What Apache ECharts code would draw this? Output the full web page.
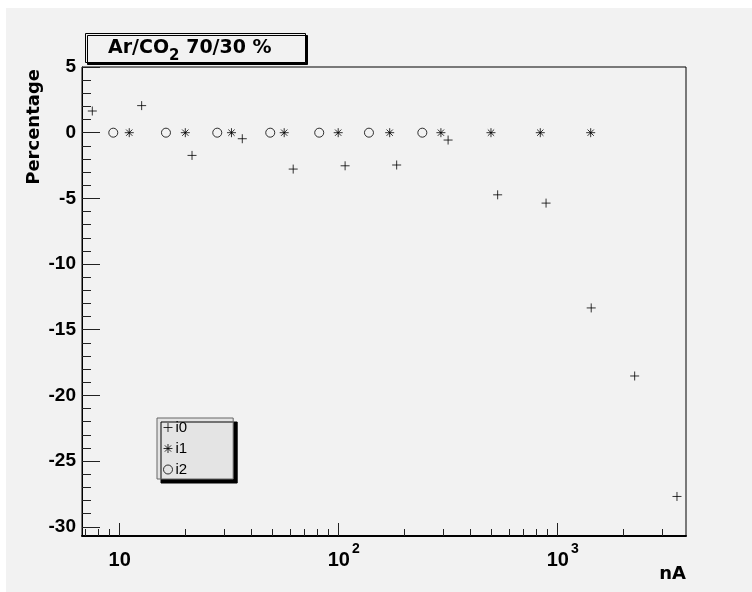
<!DOCTYPE html>
<html>
<head>
<meta charset="utf-8">
<script src="https://cdn.jsdelivr.net/npm/echarts@6/dist/echarts.min.js"></script>
<style>
  body { margin: 0; background: #fff; }
  #chart { position: absolute; left: 6px; top: 8px; width: 746px; height: 584px; }
</style>
</head>
<body>
<div id="chart"></div>
<script>
// data (x in nA, y in %)
var i0_nA  = [7.5, 12.6, 21.4, 36.3, 62, 107, 184, 316, 532, 885, 1423, 2247, 3506];
var i0_pct = [1.65, 2.06, -1.73, -0.46, -2.77, -2.52, -2.46, -0.56, -4.73, -5.36, -13.34, -18.52, -27.69];
var i1_nA  = [11.06, 19.94, 32.4, 56.4, 99.5, 171, 293, 496, 833, 1415];
var i1_pct = [0, 0, 0, 0, 0, 0, 0, 0, 0, 0];
var i2_nA  = [9.35, 16.27, 27.9, 48.7, 81.5, 137.5, 241];
var i2_pct = [0, 0, 0, 0, 0, 0, 0];

// axis ticks
var xMajor = [10, 100, 1000];
var xMinor = [7, 8, 9, 20, 30, 40, 50, 60, 70, 80, 90, 200, 300, 400, 500, 600, 700, 800, 900, 2000, 3000];
var yMajor = [-30, -25, -20, -15, -10, -5, 0, 5];
var yMinor = [];
for (var k = -29; k <= 4; k++) { if (k % 5 !== 0) yMinor.push(k); }

var xMin = 0.828, xMax = 3.586;   // log10(nA) range of the frame
var yMin = -30.7, yMax = 5;

var PLUS = 'path://M0,5L10,5M5,0L5,10';
var STAR = 'path://M0,5L10,5M5,0L5,10M1.5,1.5L8.5,8.5M1.5,8.5L8.5,1.5';

var toPts = function(xs, ys){
    return xs.map(function(x, i){ return [Math.log10(x), ys[i]]; });
};
var lg = function(arr){ return arr.map(function(v){ return Math.log10(v); }); };

var markStyle = { color: 'none', borderColor: '#000', borderWidth: 1 };
var boldFont = 'DejaVu Sans';
var labFont = 'Liberation Sans';

var chart = echarts.init(document.getElementById('chart'));
chart.setOption({
    animation: false,
    backgroundColor: '#f2f2f2',
    title: {
        left: 102,
        top: 31,
        padding: 0,
        text: '{m|Ar/CO}{s|2}{m| 70/30 %}',
        textStyle: {
            rich: {
                m: { fontFamily: boldFont, fontWeight: 'bold', fontSize: 19, color: '#000', verticalAlign: 'top' },
                s: { fontFamily: boldFont, fontWeight: 'bold', fontSize: 15, color: '#000', verticalAlign: 'bottom', lineHeight: 25 }
            }
        }
    },
    graphic: [{
        type: 'rect',
        z: -1,
        shape: { x: 79.5, y: 25.5, width: 220, height: 29 },
        style: { fill: '#f2f2f2', stroke: '#000', lineWidth: 1, shadowColor: '#000', shadowOffsetX: 2, shadowOffsetY: 2, shadowBlur: 0 }
    }],
    legend: {
        orient: 'vertical',
        left: 151,
        top: 410,
        padding: [2, 46, 2, 4],
        itemGap: 6,
        itemWidth: 9,
        itemHeight: 9,
        selectedMode: false,
        backgroundColor: '#e4e4e4',
        borderColor: '#666',
        borderWidth: 1,
        shadowColor: '#000',
        shadowBlur: 0,
        shadowOffsetX: 4,
        shadowOffsetY: 4,
        textStyle: { fontFamily: labFont, fontSize: 15, color: '#000', lineHeight: 14, padding: [0, 0, 0, -2] },
        itemStyle: { color: 'none', borderColor: '#000', borderWidth: 1 },
        data: [
            { name: 'i0', icon: PLUS },
            { name: 'i1', icon: STAR },
            { name: 'i2', icon: 'circle' }
        ]
    },
    grid: {
        left: 76, top: 59, width: 604, height: 469,
        show: true, borderColor: '#000', borderWidth: 1,
        outerBoundsMode: 'none'
    },
    xAxis: [{
        type: 'value',
        position: 'bottom',
        min: xMin, max: xMax,
        name: 'nA',
        nameLocation: 'end',
        nameGap: 0,
        nameMoveOverlap: false,
        nameTextStyle: { fontFamily: boldFont, fontWeight: 'bold', fontSize: 18, color: '#000',
            align: 'right', verticalAlign: 'top', lineHeight: 20, padding: [28, 0, 0, 0] },
        axisLine: { onZero: false, lineStyle: { color: '#000', width: 2 } },
        axisTick: { inside: true, length: 13, customValues: lg(xMajor), lineStyle: { color: '#222' } },
        splitLine: { show: false },
        axisLabel: {
            customValues: lg(xMajor),
            margin: 6,
            formatter: function(v){
                var e = Math.round(v);
                return e === 1 ? '{b|10}' : '{b2|10}{s|' + e + '}';
            },
            rich: {
                b:  { fontFamily: labFont, fontWeight: 'bold', fontSize: 20, color: '#000', lineHeight: 28, verticalAlign: 'bottom' },
                b2: { fontFamily: labFont, fontWeight: 'bold', fontSize: 20, color: '#000', lineHeight: 28, verticalAlign: 'bottom', padding: [0, 0, 0, 10] },
                s:  { fontFamily: labFont, fontWeight: 'bold', fontSize: 14, color: '#000', verticalAlign: 'top', padding: [0, 0, 0, 2] }
            }
        }
    }, {
        type: 'value',
        position: 'bottom',
        min: xMin, max: xMax,
        axisLine: { show: false, onZero: false },
        axisTick: { inside: true, length: 7, customValues: lg(xMinor), lineStyle: { color: '#222' } },
        axisLabel: { show: false },
        splitLine: { show: false }
    }],
    yAxis: [{
        type: 'value',
        position: 'left',
        min: yMin, max: yMax,
        name: 'Percentage',
        nameLocation: 'end',
        nameGap: -2,
        nameRotate: 90,
        nameMoveOverlap: false,
        nameTextStyle: { fontFamily: boldFont, fontWeight: 'bold', fontSize: 18, color: '#000',
            align: 'right', verticalAlign: 'bottom', lineHeight: 20, padding: [0, 0, 38, 0] },
        axisLine: { show: true, onZero: false, lineStyle: { color: '#000', width: 1 } },
        axisTick: { inside: true, length: 18, customValues: yMajor, lineStyle: { color: '#222' } },
        splitLine: { show: false },
        axisLabel: {
            customValues: yMajor,
            margin: 6,
            fontFamily: labFont, fontWeight: 'bold', fontSize: 19, color: '#000'
        }
    }, {
        type: 'value',
        position: 'left',
        min: yMin, max: yMax,
        axisLine: { show: false, onZero: false },
        axisTick: { inside: true, length: 9, customValues: yMinor, lineStyle: { color: '#222' } },
        axisLabel: { show: false },
        splitLine: { show: false }
    }],
    series: [{
        type: 'scatter', name: 'i0', data: toPts(i0_nA, i0_pct),
        symbol: PLUS, symbolSize: 9, itemStyle: markStyle, emphasis: { disabled: true }
    }, {
        type: 'scatter', name: 'i1', data: toPts(i1_nA, i1_pct),
        symbol: STAR, symbolSize: 9, itemStyle: markStyle, emphasis: { disabled: true }
    }, {
        type: 'scatter', name: 'i2', data: toPts(i2_nA, i2_pct),
        symbol: 'circle', symbolSize: 9, itemStyle: markStyle, emphasis: { disabled: true }
    }]
});
</script>
</body>
</html>
